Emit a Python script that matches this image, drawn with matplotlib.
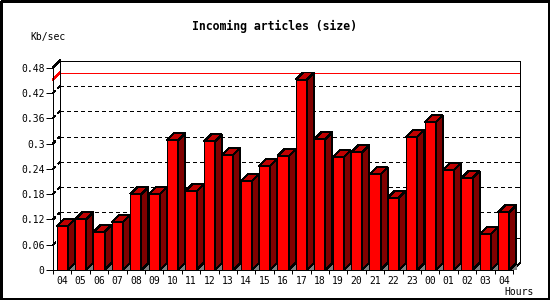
import matplotlib
matplotlib.use("Agg")
import matplotlib.pyplot as plt
from matplotlib.patches import Polygon, Rectangle

# hourly data
hours = ["04", "05", "06", "07", "08", "09", "10", "11", "12", "13", "14", "15", "16",
         "17", "18", "19", "20", "21", "22", "23", "00", "01", "02", "03", "04"]
kb_sec = [0.104, 0.120, 0.090, 0.114, 0.180, 0.180, 0.308, 0.187, 0.305, 0.273, 0.210, 0.247,
          0.270, 0.452, 0.310, 0.267, 0.279, 0.227, 0.172, 0.316, 0.350, 0.237, 0.218, 0.085, 0.137]
yticks = [0, 0.06, 0.12, 0.18, 0.24, 0.3, 0.36, 0.42, 0.48]
ytick_labels = ["0", "0.06", "0.12", "0.18", "0.24", "0.3", "0.36", "0.42", "0.48"]

plt.rcParams["font.family"] = "DejaVu Sans Mono"
plt.rcParams["lines.antialiased"] = False
plt.rcParams["patch.antialiased"] = False

W, H = 550, 300
fig = plt.figure(figsize=(W / 100, H / 100), dpi=100)

# front plane: x 53..513 px, y 270..67.7 px ; depth 7 px
n = len(hours)
ymax = yticks[-1]
px_x = (513 - 53) / n
px_y = (270 - 67.7) / ymax
dx = 7 / px_x
dy = 7 / px_y
ax = fig.add_axes([53 / W, 30 / H, (520 - 53) / W, (270 - 60.7) / H])
ax.set_xlim(0, n + dx)
ax.set_ylim(0, ymax + dy)
ax.patch.set_visible(False)
lw = 0.72
dots = (0, (3, 3))

for s in ["top", "right"]:
    ax.spines[s].set_visible(False)
ax.spines["left"].set_bounds(0, ymax)
ax.spines["bottom"].set_bounds(0, n)
ax.spines["left"].set_linewidth(lw)
ax.spines["bottom"].set_linewidth(lw)

ax.set_yticks(yticks)
ax.set_yticklabels(ytick_labels)
ax.tick_params(axis="y", length=5, width=lw, pad=1, labelsize=7)
ax.set_xticks(range(n + 1))
ax.set_xticklabels([])
ax.tick_params(axis="x", which="major", length=3, width=lw)
ax.set_xticks([i + 0.5 for i in range(n)], minor=True)
ax.set_xticklabels(hours, minor=True)
ax.tick_params(axis="x", which="minor", length=0, pad=4, labelsize=7)

# back frame and depth edges
ax.plot([dx, dx, n + dx, n + dx], [dy, ymax + dy, ymax + dy, dy], color="black", lw=lw, clip_on=False, zorder=2)
ax.plot([0, dx], [ymax, ymax + dy], color="black", lw=lw, clip_on=False, zorder=2)
ax.plot([n, n + dx], [0, dy], color="black", lw=lw, clip_on=False, zorder=2)

# dotted grid on the back plane
for v in yticks[1:-1]:
    ax.plot([0, dx], [v, v + dy], color="black", lw=lw, linestyle=dots, clip_on=False, zorder=1)
    ax.plot([dx, n + dx], [v + dy, v + dy], color="black", lw=lw, linestyle=dots, clip_on=False, zorder=1)
    ax.plot([n + dx - 0.12, n + dx], [v + dy, v + dy], color="black", lw=lw, clip_on=False, zorder=2)

# max line
vmax = max(kb_sec)
ax.plot([0, dx], [vmax, vmax + dy], color="red", lw=lw, clip_on=False, zorder=1.5)
ax.plot([dx, n + dx], [vmax + dy, vmax + dy], color="red", lw=lw, clip_on=False, zorder=1.5)

# 3D bars
for i, v in enumerate(kb_sec):
    x0, x1 = i + 0.2, i + 0.8
    ax.add_patch(Polygon([(x1, 0), (x1 + dx, dy), (x1 + dx, 0)], closed=True,
                         facecolor="#808080", edgecolor="none", zorder=2.5))
    ax.add_patch(Rectangle((x0, 0), x1 - x0, v, facecolor="#ff0000", edgecolor="black", lw=lw, zorder=3))
    ax.add_patch(Polygon([(x0, v), (x0 + dx, v + dy), (x1 + dx, v + dy), (x1, v)], closed=True,
                         facecolor="#c00000", edgecolor="black", lw=lw, zorder=3))
    ax.add_patch(Polygon([(x1, 0), (x1, v), (x1 + dx, v + dy), (x1 + dx, dy)], closed=True,
                         facecolor="#800000", edgecolor="black", lw=lw, zorder=3))

fig.text(274 / W, 1 - 26.5 / H, "Incoming articles (size)", ha="center", va="center",
         fontsize=8.3, fontweight="bold")
fig.text(30 / W, 1 - 37 / H, "Kb/sec", ha="left", va="center", fontsize=7)
fig.text(504 / W, 1 - 292 / H, "Hours", ha="left", va="center", fontsize=7)

fig.patches.append(Rectangle((0.5 / W, 1.5 / H), (W - 2) / W, (H - 2) / H, transform=fig.transFigure,
                             fill=False, edgecolor="black", lw=1.0))

fig.savefig("out.png", dpi=100)
